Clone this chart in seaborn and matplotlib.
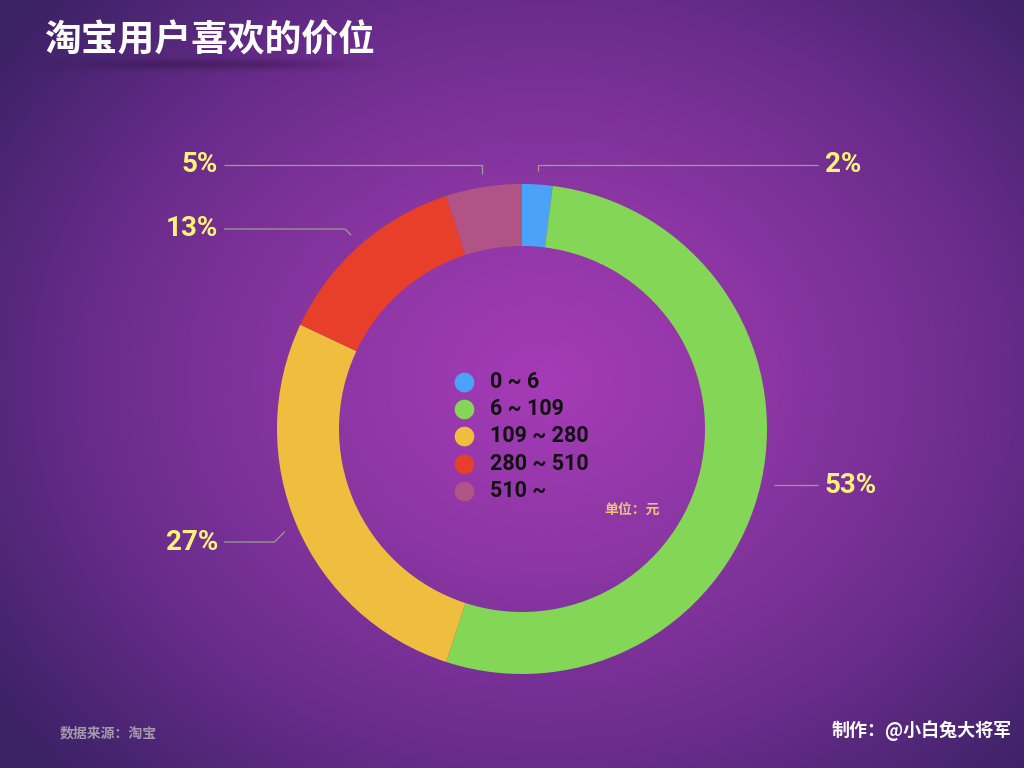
import numpy as np
import matplotlib
matplotlib.use("Agg")
import matplotlib.pyplot as plt
import seaborn as sns
from matplotlib.colors import LinearSegmentedColormap

# ---- data ----
categories = ["0 ~ 6", "6 ~ 109", "109 ~ 280", "280 ~ 510", "510 ~"]
shares = [2, 53, 27, 13, 5]
pct_labels = ["2%", "53%", "27%", "13%", "5%"]
colors = ["#4aa3f7", "#84d656", "#f0be3f", "#e83f2a", "#b25386"]

title = "淘宝用户喜欢的价位"
unit_text = "单位：元"
source_text = "数据来源：淘宝"
author_text = "制作：@小白兔大将军"

# ---- layout (pixels) ----
W, H = 1024, 768
CX, CY, R, RING = 522, 429, 245, 62
label_levels_px = [165, None, 542, 229, 165]
elbow_style = ["v", None, "d", "d", "v"]
LEFT_END, RIGHT_END = 224, 818

sns.set_style("white")
plt.rcParams['font.family'] = ['Roboto', 'Noto Sans CJK SC', 'DejaVu Sans']
cjk = ['Noto Sans CJK SC', 'DejaVu Sans']

fig = plt.figure(figsize=(10.24, 7.68), dpi=100)

# background radial gradient
bg = fig.add_axes([0, 0, 1, 1])
bg.axis('off')
yy, xx = np.mgrid[0:H, 0:W]
d = np.sqrt(((xx - 545) / 640) ** 2 + ((yy - 380) / 540) ** 2)
cmap = LinearSegmentedColormap.from_list('bg', ['#a63bb7', '#8b36a3', '#6a2c8c', '#3c2266'])
bg.imshow(d, cmap=cmap, vmin=0, vmax=1.05, extent=[0, W, H, 0], aspect='auto', interpolation='bilinear')
# title shadow
sh = np.zeros((H, W, 4))
ay = np.exp(-((yy - 64) / 5.0) ** 2)
ax_ = np.clip(np.minimum((xx - 40) / 120, (385 - xx) / 120), 0, 1)
sh[..., 3] = 0.22 * ay * ax_
bg.imshow(sh, extent=[0, W, H, 0], aspect='auto')
bg.set_xlim(0, W); bg.set_ylim(H, 0)

ax = fig.add_axes([0, 0, 1, 1], zorder=2)
Y = lambda p: H - p

wedges, _ = ax.pie(shares, colors=colors, startangle=90, counterclock=False,
                   radius=R, center=(CX, Y(CY)),
                   wedgeprops=dict(width=RING, linewidth=0))
ax.set_xlim(0, W)
ax.set_ylim(0, H)
ax.set_aspect('equal')
ax.axis('off')

total = float(sum(shares))
cum = np.cumsum(shares)
mids = (cum - np.array(shares) / 2) / total * 360.0
theta = np.deg2rad(90 - mids)
line_c = '#9aa08f'
for i, lab in enumerate(pct_labels):
    x0 = CX + R * 1.055 * np.cos(theta[i])
    y0 = Y(CY) + R * 1.055 * np.sin(theta[i])
    right = np.cos(theta[i]) > 0
    lvl = Y(label_levels_px[i]) if label_levels_px[i] is not None else y0
    xs, ys = [x0], [y0]
    if elbow_style[i] == 'v':
        xs.append(x0); ys.append(lvl)
    elif elbow_style[i] == 'd':
        dx = abs(lvl - y0)
        xs.append(x0 + (dx if right else -dx)); ys.append(lvl)
    xend = RIGHT_END if right else LEFT_END
    xs.append(xend); ys.append(lvl)
    ax.plot(xs, ys, color=line_c, lw=0.9, solid_capstyle='butt')
    ax.text(xend + 7 if right else xend - 6, lvl, lab, ha='left' if right else 'right',
            va='center', color='#faf27a', fontsize=20, fontweight='bold', family='Roboto')

# legend
for i, (cat, c) in enumerate(zip(categories, colors)):
    yp = Y(382 + 27.2 * i)
    ax.scatter([464], [yp], s=200, color=c, linewidths=0, zorder=3)
    ax.text(490, yp, cat, ha='left', va='center', fontsize=15.5, fontweight='bold',
            color='#111111', family='Roboto')
ax.text(604, Y(510), unit_text, ha='left', va='center', fontsize=10, fontweight='bold',
        color='#e9c47c', family=cjk)

ax.text(44, Y(41), title, ha='left', va='center', fontsize=26.5, fontweight='heavy',
        color='white', family=cjk)
ax.text(60, Y(733), source_text, ha='left', va='center', fontsize=10, fontweight='bold',
        color='#a39ab0', family=cjk)
ax.text(1012, Y(731), author_text, ha='right', va='center', fontsize=13, fontweight='bold',
        color='white', family=cjk)

fig.savefig('out.png', dpi=100)
